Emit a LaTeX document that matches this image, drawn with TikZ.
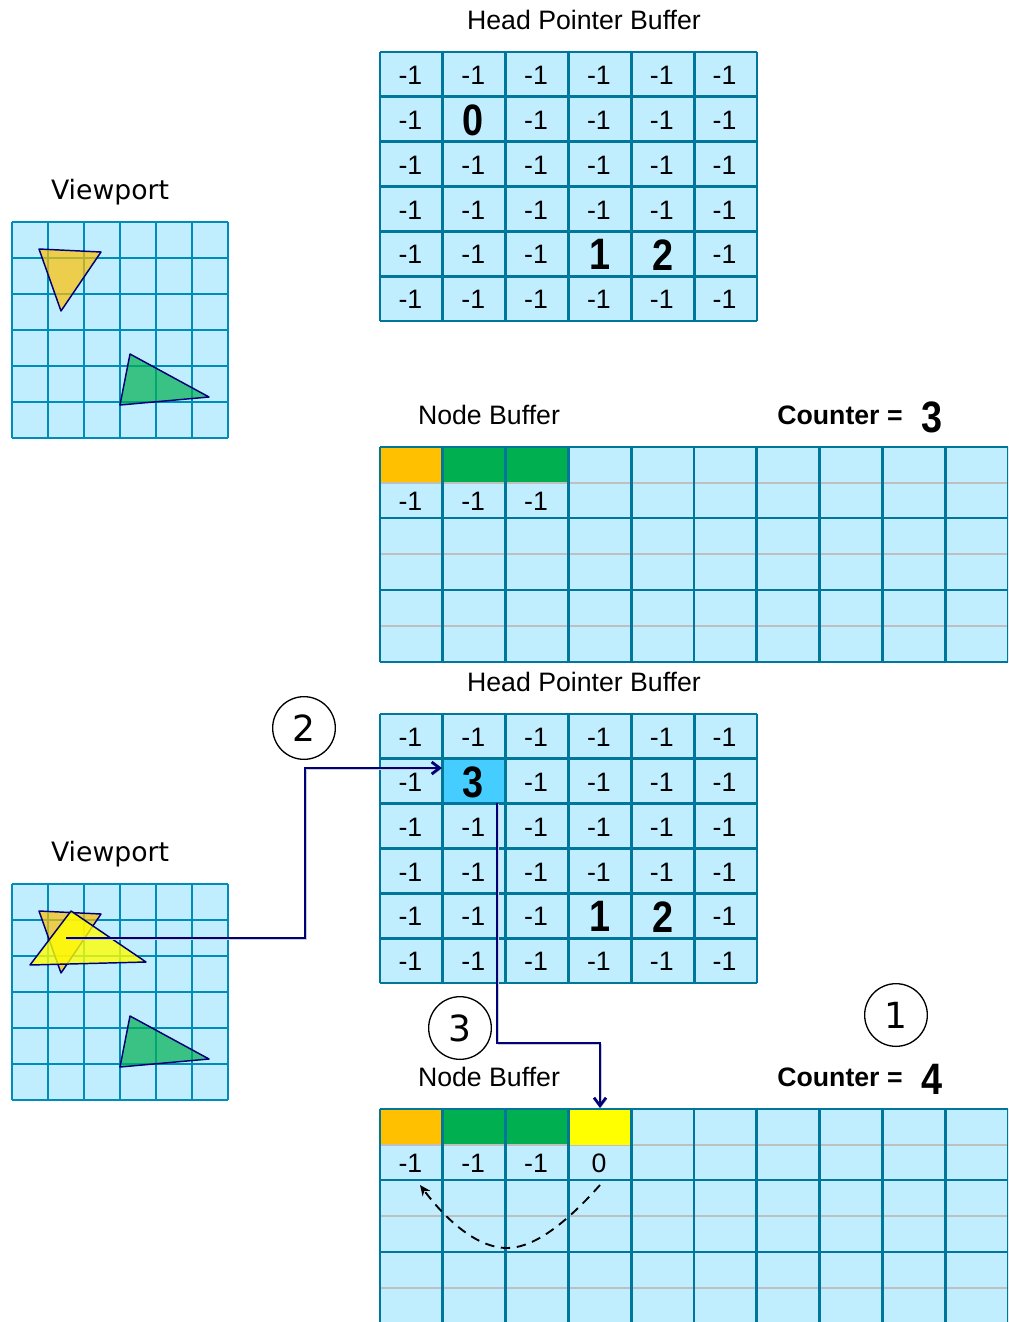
\documentclass[tikz,border=0pt]{standalone}
\usepackage{fontspec}
\usepackage{graphicx}
\setmainfont{Liberation Sans}
\newfontfamily\vpfont{DejaVu Sans}
\usetikzlibrary{positioning, arrows.meta}
\definecolor{cellblue}{RGB}{193,238,255}
\definecolor{hpline}{RGB}{0,118,155}
\definecolor{vpline}{RGB}{0,140,185}
\definecolor{wireblue}{RGB}{0,0,120}
\definecolor{fragorange}{RGB}{255,192,0}
\definecolor{fraggreen}{RGB}{0,176,80}
\definecolor{fragyellow}{RGB}{255,255,0}
\definecolor{activecell}{RGB}{70,205,255}
\tikzstyle{val}=[font=\fontsize{20}{20}\selectfont,inner sep=0pt]
\tikzstyle{big}=[font=\fontsize{33}{33}\bfseries\selectfont,inner sep=0pt]
\tikzstyle{ttl}=[font=\fontsize{20}{20}\selectfont,inner sep=0pt]
\tikzstyle{vpt}=[font=\fontsize{20}{20}\vpfont\selectfont,inner sep=0pt]
\tikzstyle{cnt}=[font=\fontsize{20}{20}\bfseries\selectfont,inner sep=0pt]
\tikzstyle{num}=[draw,circle,line width=1pt,minimum size=47pt,inner sep=0pt,font=\fontsize{27}{27}\vpfont\selectfont]
\tikzstyle{wire}=[wireblue,line width=2.1pt,preaction={draw=black!20,transform canvas={shift={(.9pt,-.9pt)}}}]
\tikzstyle{tri}=[draw=wireblue,line width=1.1pt,line join=round]
\tikzstyle{vpgrid}=[vpline,line width=2.2pt]
\tikzstyle{bufgrid}=[hpline,line width=2.2pt]

\begin{document}
\begin{tikzpicture}[x=.75pt,y=-.75pt]
    \useasboundingbox (0,0) rectangle (1008,1322);
    \clip (0,0) rectangle (1008,1322);
    \foreach \yo/\t in {0/a,662/b} {
        % viewport
        \fill[cellblue] (12,222+\yo) rectangle (228,438+\yo);
        \foreach \i in {0,...,6} {
            \draw[vpgrid] (12+36*\i,222+\yo) -- (12+36*\i,438+\yo);
            \draw[vpgrid] (12,222+36*\i+\yo) -- (228,222+36*\i+\yo);}
        \node[vpt] (vp\t) at (110,192+\yo) {Viewport};
        % triangles of the scene
        \draw[tri,fill=fragorange,fill opacity=.7] (39,249+\yo) -- (101,252+\yo) -- (61,311+\yo) -- cycle;
        \draw[tri,fill=fraggreen,fill opacity=.7] (130,354+\yo) -- (209,397+\yo) -- (120,405+\yo) -- cycle;
        % head pointers
        \fill[cellblue] (380,52+\yo) rectangle (757,321+\yo);
        \node[ttl] (hpt\t) at (584,20+\yo) {Head Pointer Buffer};
        \foreach \r in {1,...,6}
            \foreach \c in {1,...,6}
                \node[minimum width=47pt,minimum height=33.6pt,inner sep=0pt] (hp\t\r\c) at (379+62.83*\c-31.4,53+44.83*\r-22.4+\yo) {};
        \foreach \r/\c in {1/1,1/2,1/3,1/4,1/5,1/6,2/1,2/3,2/4,2/5,2/6,3/1,3/2,3/3,3/4,3/5,3/6,4/1,4/2,4/3,4/4,4/5,4/6,5/1,5/2,5/3,5/6,6/1,6/2,6/3,6/4,6/5,6/6}
            \node[val] at (hp\t\r\c) {-1};
        \node[big,xshift=.7pt] at (hp\t54) {\scalebox{.86}[1]{1}};
        \node[big,xshift=.7pt] at (hp\t55) {\scalebox{.86}[1]{2}};
        % node storage
        \fill[cellblue] (380,447+\yo) rectangle (1008,662+\yo);
        \fill[fragorange] (380,447+\yo) rectangle (443,483+\yo);
        \fill[fraggreen] (443,447+\yo) rectangle (568,483+\yo);
        \foreach \yg in {483,554,626}
            \draw[black!25,line width=2.2pt] (380,\yg+\yo) -- (1008,\yg+\yo);
        \node[ttl] (nbt\t) at (489,415+\yo) {Node Buffer};
        \node[cnt] (cnt\t) at (840,415+\yo) {Counter =};
        \foreach \c in {1,2,3}
            \node[val] (nb\t\c) at (379+62.8*\c-31.4,501+\yo) {-1};
    }
    % the fragment being inserted
    \fill[activecell] (443,759) rectangle (505,803);
    \fill[fragyellow] (568,1109) rectangle (631,1145);
    \draw[tri,fill=fragyellow,fill opacity=.8] (71,911) -- (146,962) -- (30,965) -- cycle;
    % grid lines above the fills
    \foreach \yo in {0,662} {
        \foreach \i in {0,...,6} {
            \draw[bufgrid] (380+62.83*\i,52+\yo) -- (380+62.83*\i,321+\yo);
            \draw[bufgrid] (380,52+44.83*\i+\yo) -- (757,52+44.83*\i+\yo);}
        \foreach \i in {0,...,10}
            \draw[bufgrid] (380+62.8*\i,447+\yo) -- (380+62.8*\i,662+\yo);
        \foreach \yg in {447,518,590,662}
            \draw[bufgrid] (380,\yg+\yo) -- (1008,\yg+\yo);}
    \node[big] at (hpa22) {\scalebox{.86}[1]{0}};
    \node[big] at (hpb22) {\scalebox{.86}[1]{3}};
    \node[big] (cva) at (932,417) {\scalebox{.86}[1]{3}};
    \node[big] (cvb) at (932,1079) {\scalebox{.86}[1]{4}};
    \node[val] (nbnew) at (599,1163) {0};
    % step markers
    \node[num] (stepb) at (304,728) {2};
    \node[num] (stepc) at (460,1028) {3};
    \node[num] (stepa) at (896,1015) {1};
    % links between the buffers
    \coordinate (frag) at (66,938);
    \coordinate (hit) at (442,768);
    \coordinate (from) at (497,803);
    \coordinate (slot) at (600,1108);
    \coordinate (nxt) at (600,1185);
    \coordinate (old) at (420,1185);
    \draw[wire,-{Straight Barb[length=6pt,width=9pt]}] (frag) -- (305,938) -- (305,768) -- (hit);
    \draw[wire,-{Straight Barb[length=6pt,width=9pt]}] (from) -- (497,1043) -- (600,1043) -- (slot);
    \draw[dash pattern=on 7pt off 5pt,line width=1.4pt,-{Stealth[length=8pt,width=7pt]}] (nxt) .. controls (560,1230) and (530,1248) .. (507,1248) .. controls (480,1248) and (450,1225) .. (old);
\end{tikzpicture}
\end{document}
